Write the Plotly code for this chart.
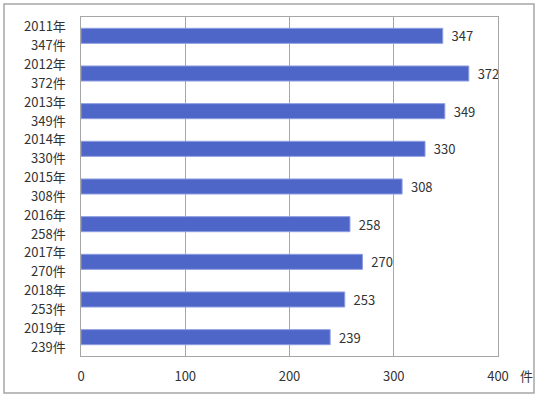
import plotly.graph_objects as go

years = ["2011年", "2012年", "2013年", "2014年", "2015年", "2016年", "2017年", "2018年", "2019年"]
counts = [347, 372, 349, 330, 308, 258, 270, 253, 239]
x_ticks = [0, 100, 200, 300, 400]

L, R, T, B = 81, 42, 17, 42
W, H = 540, 398
pw, ph = W - L - R, H - T - B

cats = list(range(len(years)))

fig = go.Figure(go.Bar(
    y=cats, x=counts, orientation="h",
    marker=dict(color="#4F66C9", line=dict(color="#8E9EE0", width=1)),
    width=0.4,
    text=["\u00a0\u00a0" + str(c) for c in counts], textposition="outside",
    textfont=dict(size=13, color="#333333"),
    constraintext="none",
    cliponaxis=False,
    hoverinfo="skip",
))

annotations = []
for i, (y, c) in enumerate(zip(years, counts)):
    annotations.append(dict(text=y, xref="paper", yref="y", x=-0.03, y=i - 0.27,
                            xanchor="right", yanchor="middle", showarrow=False,
                            font=dict(size=13, color="#333333")))
    annotations.append(dict(text=f"{c}件", xref="paper", yref="y", x=-0.03, y=i + 0.24,
                            xanchor="right", yanchor="middle", showarrow=False,
                            font=dict(size=13, color="#333333")))
annotations.append(dict(text="件", xref="paper", yref="paper", x=(526 - L) / pw, y=(H - B - 375) / ph,
                        xanchor="center", yanchor="middle",
                        showarrow=False, font=dict(size=13, color="#333333")))

fig.update_layout(
    width=W, height=H,
    margin=dict(l=L, r=R, t=T, b=B),
    paper_bgcolor="white", plot_bgcolor="white",
    font=dict(family="Noto Sans CJK JP", size=13, color="#333333"),
    showlegend=False,
    xaxis=dict(range=[0, 400], tickvals=x_ticks, showgrid=True, gridcolor="#A6A6A6", gridwidth=1,
               zeroline=False, showline=True, linecolor="#A6A6A6", mirror=True,
               ticks="", ticklabelstandoff=8, tickfont=dict(size=13), automargin=False),
    yaxis=dict(range=[len(years) - 0.5, -0.5], showline=True, linecolor="#A6A6A6", mirror=True,
               ticks="", showticklabels=False, showgrid=False, zeroline=False, automargin=False),
    shapes=[dict(type="rect", xref="paper", yref="paper",
                 x0=(4 - L) / pw, x1=(534 - L) / pw,
                 y0=(H - B - 393) / ph, y1=(H - B - 4) / ph,
                 line=dict(color="#A6A6A6", width=1.5), fillcolor="rgba(0,0,0,0)")],
    annotations=annotations,
)

fig.write_html("out.html", config={"displayModeBar": False},
               post_script="document.body.style.margin='0';document.body.style.overflow='hidden';")
